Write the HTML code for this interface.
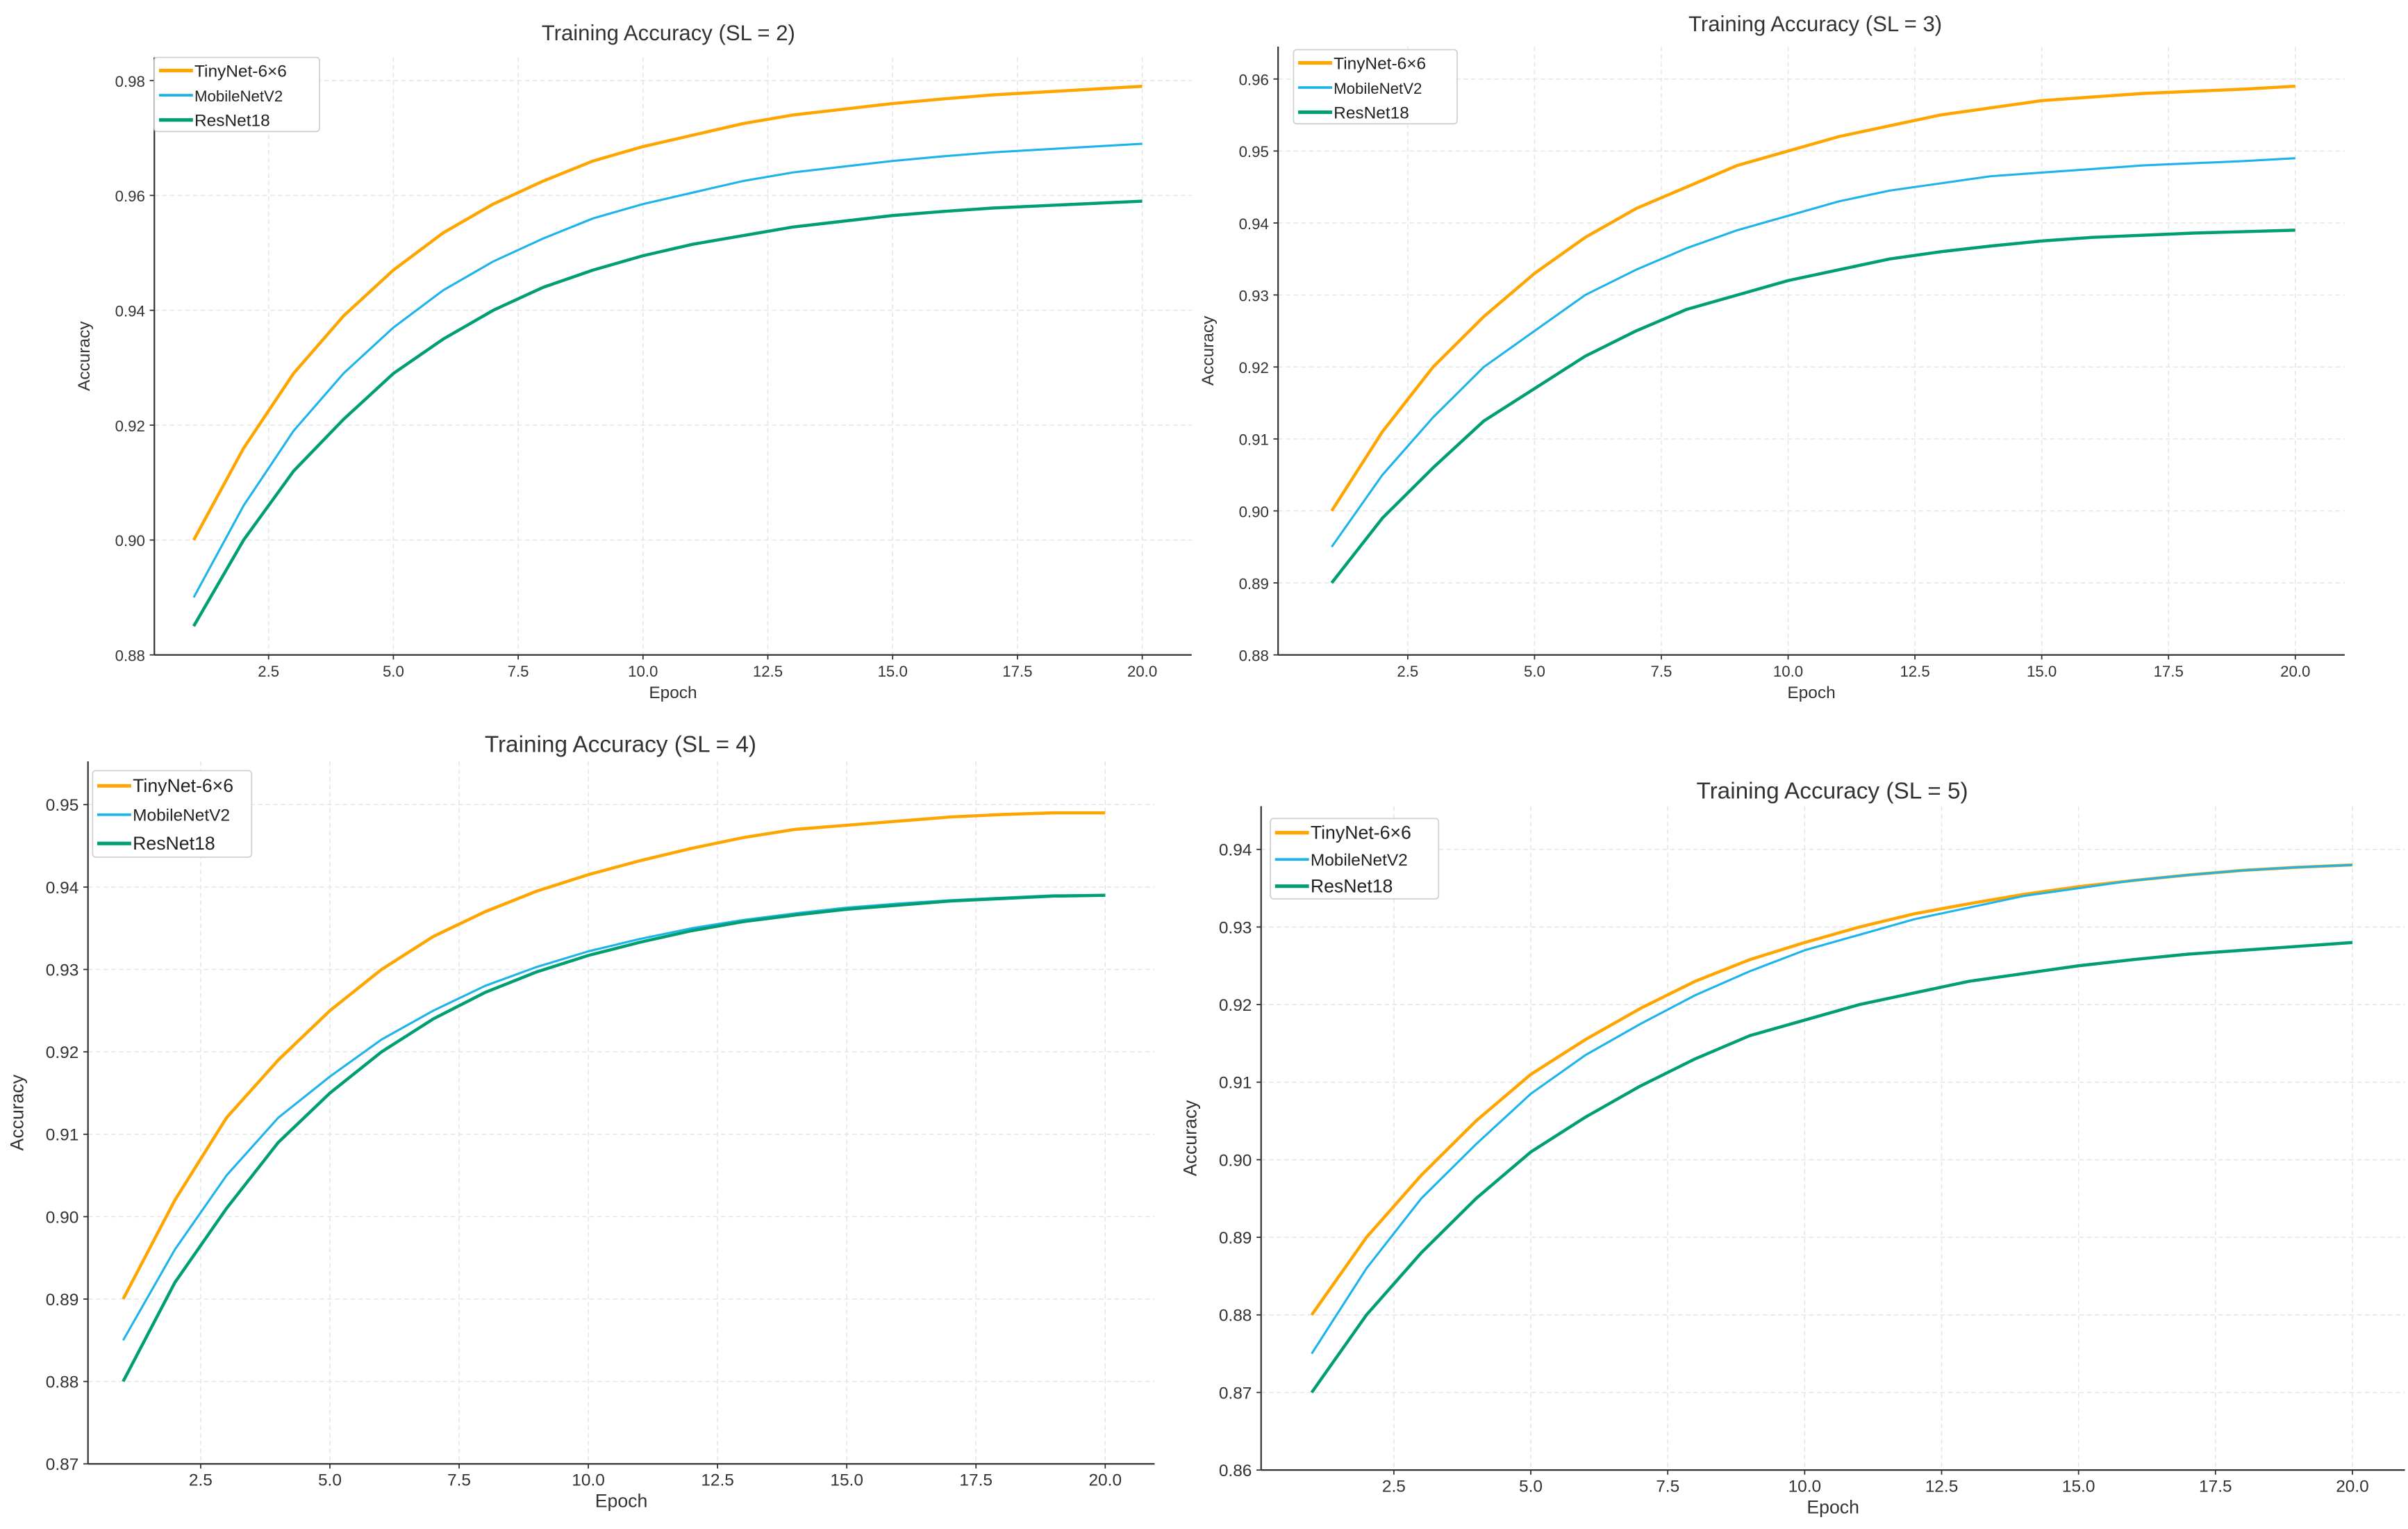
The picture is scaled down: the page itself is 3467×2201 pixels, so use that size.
<!DOCTYPE html>
<html><head><meta charset="utf-8"><style>
html,body{margin:0;padding:0;background:#fff;}
svg{display:block;font-family:"Liberation Sans","DejaVu Sans",sans-serif;}
</style></head><body>
<svg id="fig" width="3467" height="2201" viewBox="0 0 1560 990" xmlns="http://www.w3.org/2000/svg"></svg>
<script>
const epochs=[1,2,3,4,5,6,7,8,9,10,11,12,13,14,15,16,17,18,19,20];
const seriesNames=["TinyNet-6×6","MobileNetV2","ResNet18"];
const p1Tiny=[.900,.916,.929,.939,.947,.9535,.9585,.9625,.966,.9685,.9705,.9725,.974,.975,.976,.9768,.9775,.978,.9785,.979];
const p1Mobile=[.890,.906,.919,.929,.937,.9435,.9485,.9525,.956,.9585,.9605,.9625,.964,.965,.966,.9668,.9675,.968,.9685,.969];
const p1Res=[.885,.900,.912,.921,.929,.935,.940,.944,.947,.9495,.9515,.953,.9545,.9555,.9565,.9572,.9578,.9582,.9586,.959];
const p2Tiny=[.900,.911,.920,.927,.933,.938,.942,.945,.948,.950,.952,.9535,.955,.956,.957,.9575,.958,.9583,.9586,.959];
const p2Mobile=[.895,.905,.913,.920,.925,.930,.9335,.9365,.939,.941,.943,.9445,.9455,.9465,.947,.9475,.948,.9483,.9486,.949];
const p2Res=[.890,.899,.906,.9125,.917,.9215,.925,.928,.930,.932,.9335,.935,.936,.9368,.9375,.938,.9383,.9386,.9388,.939];
const p3Tiny=[.890,.902,.912,.919,.925,.930,.934,.937,.9395,.9415,.9432,.9447,.946,.947,.9475,.948,.9485,.9488,.949,.949];
const p3Mobile=[.885,.896,.905,.912,.917,.9215,.925,.928,.9303,.9322,.9337,.935,.936,.9368,.9375,.938,.9384,.9387,.939,.939];
const p3Res=[.880,.892,.901,.909,.915,.920,.924,.9272,.9297,.9317,.9333,.9347,.9358,.9366,.9373,.9378,.9383,.9386,.9389,.939];
const p4Tiny=[.880,.890,.898,.905,.911,.9155,.9195,.923,.9258,.928,.930,.9317,.933,.9342,.9352,.936,.9367,.9373,.9377,.938];
const p4Mobile=[.875,.886,.895,.902,.9085,.9135,.9175,.9212,.9243,.927,.929,.931,.9325,.934,.935,.936,.9367,.9373,.9377,.938];
const p4Res=[.870,.880,.888,.895,.901,.9055,.9095,.913,.916,.918,.920,.9215,.923,.924,.925,.9258,.9265,.927,.9275,.928];
const xTicks=[2.5,5.0,7.5,10.0,12.5,15.0,17.5,20.0];
const p1YTicks=[.88,.90,.92,.94,.96,.98];
const p2YTicks=[.88,.89,.90,.91,.92,.93,.94,.95,.96];
const p3YTicks=[.87,.88,.89,.90,.91,.92,.93,.94,.95];
const p4YTicks=[.86,.87,.88,.89,.90,.91,.92,.93,.94];

const NS="http://www.w3.org/2000/svg";
const svg=document.getElementById('fig');
const colors=["#FFA500","#1CB4EA","#009E73"];
const widths=[2.0,1.4,2.0];
function mk(tag,attrs,parent){const e=document.createElementNS(NS,tag);for(const k in attrs)e.setAttribute(k,attrs[k]);(parent||svg).appendChild(e);return e;}

const panels=[
 {title:"Training Accuracy (SL = 2)",tx:433,ty:26,ts:14,L:100,R:772,T:37,B:424,x0:174,x1:740,y0v:.88,y0:424,y1v:.98,y1:52,yt:p1YTicks,dec:2,data:[p1Tiny,p1Mobile,p1Res],lg:[100,37,107,48],fs:10},
 {title:"Training Accuracy (SL = 3)",tx:1176,ty:20,ts:14,L:828,R:1519,T:30,B:424,x0:912,x1:1487,y0v:.88,y0:424,y1v:.96,y1:51,yt:p2YTicks,dec:2,data:[p2Tiny,p2Mobile,p2Res],lg:[838,32,106,48],fs:10},
 {title:"Training Accuracy (SL = 4)",tx:402,ty:487,ts:15,L:57,R:748,T:493,B:948,x0:130,x1:716,y0v:.87,y0:948,y1v:.95,y1:521,yt:p3YTicks,dec:2,data:[p3Tiny,p3Mobile,p3Res],lg:[60,499,103,56],fs:11},
 {title:"Training Accuracy (SL = 5)",tx:1187,ty:517,ts:15,L:817,R:1558,T:522,B:952,x0:903,x1:1524,y0v:.86,y0:952,y1v:.94,y1:550,yt:p4YTicks,dec:2,data:[p4Tiny,p4Mobile,p4Res],lg:[823,530,109,52],fs:11}
];

panels.forEach((p,pi)=>{
 const g=mk('g',{});
 
 
 const X=v=>p.x0+(v-2.5)*(p.x1-p.x0)/17.5;
 const Y=v=>p.y0+(v-p.y0v)*(p.y1-p.y0)/(p.y1v-p.y0v);
 xTicks.forEach(t=>{const l=mk('line',{x1:X(t),x2:X(t),y1:p.T,y2:p.B,stroke:"#e6e6e6","stroke-width":0.7,"stroke-dasharray":"3,2"},g);
  });
 p.yt.forEach(t=>{const l=mk('line',{x1:p.L,x2:p.R,y1:Y(t),y2:Y(t),stroke:"#e6e6e6","stroke-width":0.7,"stroke-dasharray":"3,2"},g);
  });
 p.data.forEach((arr,si)=>{
  const d=arr.map((v,i)=>(i?'L':'M')+X(epochs[i]).toFixed(2)+','+Y(v).toFixed(2)).join(' ');
  const path=mk('path',{d:d,fill:"none",stroke:colors[si],"stroke-width":widths[si],"stroke-linejoin":"round"},g);
  
  
 });
 const s1=mk('line',{x1:p.L,x2:p.L,y1:p.T,y2:p.B,stroke:"#333","stroke-width":1},g);
 
 const s2=mk('line',{x1:p.L,x2:p.R,y1:p.B,y2:p.B,stroke:"#333","stroke-width":1},g);
 
 xTicks.forEach(t=>{
  mk('line',{x1:X(t),x2:X(t),y1:p.B,y2:p.B+3,stroke:"#333","stroke-width":0.8},g);
  const tx=mk('text',{x:X(t),y:p.B+14,"text-anchor":"middle","font-size":p.fs,fill:"#333"},g);
  tx.textContent=t.toFixed(1);
  
 });
 p.yt.forEach(t=>{
  mk('line',{x1:p.L-3,x2:p.L,y1:Y(t),y2:Y(t),stroke:"#333","stroke-width":0.8},g);
  const tx=mk('text',{x:p.L-6,y:Y(t)+4,"text-anchor":"end","font-size":p.fs,fill:"#333"},g);
  tx.textContent=t.toFixed(p.dec);
  
 });
 const xl=mk('text',{x:(p.L+p.R)/2,y:p.B+28,"text-anchor":"middle","font-size":p.fs+1,fill:"#333"},g);
 xl.textContent="Epoch";
 const yx=p.L-42, yy=(p.T+p.B)/2;
 const yl=mk('text',{x:yx,y:yy,"text-anchor":"middle","font-size":p.fs+1,fill:"#333",transform:`rotate(-90 ${yx} ${yy})`},g);
 yl.textContent="Accuracy";
 const ti=mk('text',{x:p.tx,y:p.ty,"text-anchor":"middle","font-size":p.ts,fill:"#333"},g);
 ti.textContent=p.title;
 const [lx,ly,lw,lh]=p.lg;
 const lg=mk('g',{},g);
 
 mk('rect',{x:lx,y:ly,width:lw,height:lh,fill:"#fff",stroke:"#d0d0d0","stroke-width":0.8,rx:2},lg);
 const step=lh/3;
 seriesNames.forEach((n,si)=>{
  const cy=ly+step*(si+0.5)+0.5;
  const e=mk('g',{},lg);
  
  mk('line',{x1:lx+3,x2:lx+25,y1:cy,y2:cy,stroke:colors[si],"stroke-width":widths[si]+0.3},e);
  const t=mk('text',{x:lx+26,y:cy+4,"font-size":p.fs+(si===1?0:1),fill:"#222"},e);
  t.textContent=n;
 });
});
</script>
</body></html>
